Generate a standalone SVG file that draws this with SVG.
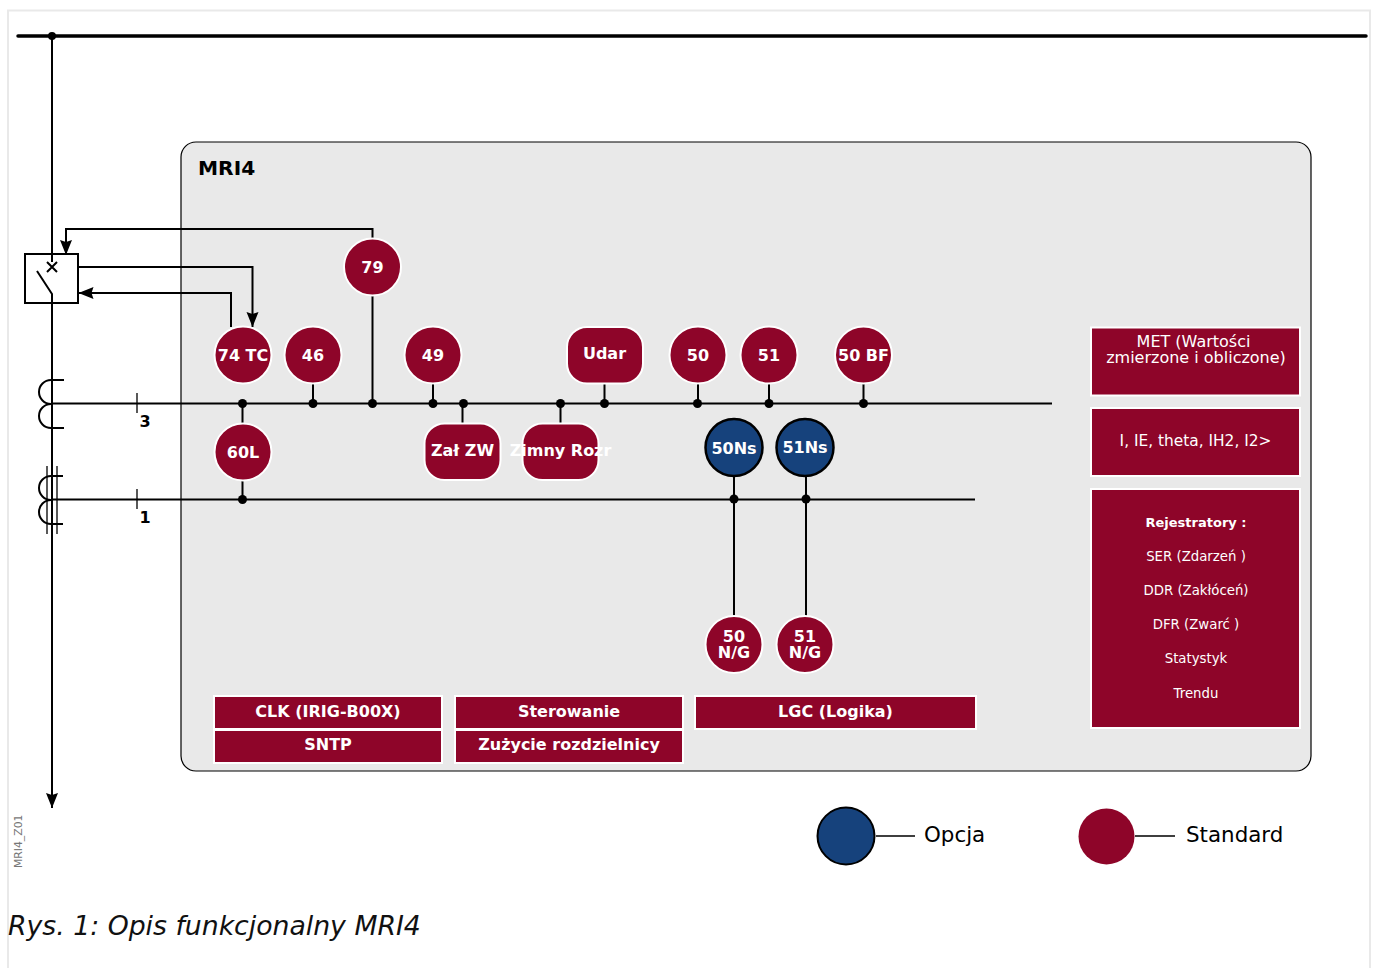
<svg xmlns="http://www.w3.org/2000/svg" width="1375" height="968" viewBox="0 0 1375 968">
<defs>
<marker id="arrow" markerUnits="userSpaceOnUse" markerWidth="16" markerHeight="14" refX="15" refY="6.500" orient="auto"><path d="M0 0.500L15 6.500L0 12.500L2 6.500Z" fill="#000"/></marker>
</defs>
<style>
text{font-family:"DejaVu Sans","Liberation Sans",sans-serif}
.c{text-anchor:middle}
.w{fill:#fff}
.m{font-weight:bold;font-size:16px}
.s{font-size:13.300px}
.red{fill:#8e0529;stroke:#fff;stroke-width:2}
.blue{fill:#16427c;stroke:#000;stroke-width:2.500}
.l{fill:none;stroke:#000;stroke-width:2}
.t{fill:none;stroke:#000;stroke-width:1.300}
</style>
<rect width="1375" height="968" fill="#fff"/>
<path d="M8 968V10.500H1370V968" fill="none" stroke="#e9e9e9" stroke-width="2"/>
<g id="mri4-frame">
<rect x="181" y="142" width="1130" height="629" rx="15" ry="15" fill="#e9e9e9" stroke="#000" stroke-width="1.200"/>
<text x="198" y="175" font-size="20.200" font-weight="bold">MRI4</text>
</g>
<g id="connectors">
<path d="M18 36H1366" fill="none" stroke="#000" stroke-width="3.500" stroke-linecap="round"/>
<circle cx="52" cy="36" r="4"/>
<path class="l" d="M52 36V254"/>
<path class="l" d="M52 303V808" marker-end="url(#arrow)"/>
<path class="l" d="M52 254V262M37 271L52 294V303"/>
<path class="l" d="M47 262L57 272M57 262L47 272"/>
<path class="l" d="M372.500 239V229H66V255" marker-end="url(#arrow)"/>
<path class="l" d="M79 267H252.500V327" marker-end="url(#arrow)"/>
<path class="l" d="M231 327V293H78.500" marker-end="url(#arrow)"/>
<path class="l" d="M372.500 296V403"/>
<path class="l" d="M52 403.500H1052"/>
<path class="l" d="M52 499.500H975"/>
<path class="t" d="M137 393V413M137 489V509"/>
<path class="l" d="M64 380H51A12 12 0 0 0 51 404A12 12 0 0 0 51 428H64"/>
<path class="l" d="M63 476H51A12 12 0 0 0 51 500A12 12 0 0 0 51 524H63"/>
<path class="t" d="M47 466V534M57 466V534"/>
<path class="l" d="M242.500 403V424M242.500 480V499M313 384V403M433 384V403M462.500 403V424M560.500 403V424M604.500 384V403M698 384V403M769 384V403M863.500 384V403M734 476V616M806 476V616"/>
<g>
<circle cx="242.500" cy="403.500" r="4.500"/><circle cx="313" cy="403.500" r="4.500"/><circle cx="372.500" cy="403.500" r="4.500"/><circle cx="433" cy="403.500" r="4.500"/><circle cx="463.500" cy="403.500" r="4.500"/><circle cx="560.500" cy="403.500" r="4.500"/><circle cx="604.500" cy="403.500" r="4.500"/><circle cx="697.500" cy="403.500" r="4.500"/><circle cx="769" cy="403.500" r="4.500"/><circle cx="863.500" cy="403.500" r="4.500"/><circle cx="242.500" cy="499.500" r="4.500"/><circle cx="734" cy="499" r="4.500"/><circle cx="806" cy="499" r="4.500"/>
</g>
<path d="M876 836H915M1135 836H1175" fill="none" stroke="#000" stroke-width="1.500"/>
</g>
<g id="breaker"><rect x="25" y="254" width="53" height="49" fill="none" stroke="#000" stroke-width="2"/></g>
<text class="m" x="145" y="427" text-anchor="middle">3</text>
<text class="m" x="145" y="523" text-anchor="middle">1</text>
<g id="n79"><circle class="red" cx="372.500" cy="267" r="28.500"/><text class="c w m" x="372.500" y="273">79</text></g>
<g id="n74tc"><circle class="red" cx="243" cy="355" r="28.500"/><text class="c w m" x="243" y="361">74 TC</text></g>
<g id="n46"><circle class="red" cx="313" cy="355" r="28.500"/><text class="c w m" x="313" y="361">46</text></g>
<g id="n49"><circle class="red" cx="433" cy="355" r="28.500"/><text class="c w m" x="433" y="361">49</text></g>
<g id="nudar"><rect class="red" x="567" y="327" width="76" height="56.500" rx="20"/><text class="c w m" x="604.500" y="359">Udar</text></g>
<g id="n50"><circle class="red" cx="698" cy="355" r="28.500"/><text class="c w m" x="698" y="361">50</text></g>
<g id="n51"><circle class="red" cx="769" cy="355" r="28.500"/><text class="c w m" x="769" y="361">51</text></g>
<g id="n50bf"><circle class="red" cx="863.500" cy="355" r="28.500"/><text class="c w m" x="863.500" y="361">50 BF</text></g>
<g id="n60l"><circle class="red" cx="243" cy="452" r="28.500"/><text class="c w m" x="243" y="458">60L</text></g>
<g id="nzalzw"><rect class="red" x="424.500" y="423.500" width="76" height="56.500" rx="20"/><text class="c w m" x="462.500" y="456">Zał ZW</text></g>
<g id="nzimny"><rect class="red" x="522.500" y="423.500" width="76" height="56.500" rx="20"/><text class="c w m" x="560.500" y="456">Zimny Rozr</text></g>
<g id="n50ns"><circle class="blue" cx="734" cy="447.500" r="28.500"/><text class="c w m" x="734" y="454">50Ns</text></g>
<g id="n51ns"><circle class="blue" cx="805" cy="447.500" r="28.500"/><text class="c w m" x="805" y="453">51Ns</text></g>
<g id="n50ng"><circle class="red" cx="734" cy="644.500" r="28.500"/><text class="c w m" x="734" y="642">50</text><text class="c w m" x="734" y="658">N/G</text></g>
<g id="n51ng"><circle class="red" cx="805" cy="644.500" r="28.500"/><text class="c w m" x="805" y="642">51</text><text class="c w m" x="805" y="658">N/G</text></g>
<g id="met"><rect class="red" x="1091" y="327.500" width="209" height="68"/><text class="c w" font-size="16" x="1193.500" y="347">MET (Wartości</text><text class="c w" font-size="16" x="1196" y="363">zmierzone i obliczone)</text></g>
<g id="values"><rect class="red" x="1091" y="408" width="209" height="68"/><text class="c w" font-size="15.400" x="1195.500" y="446">I, IE, theta, IH2, I2&gt;</text></g>
<g id="rejestratory"><rect class="red" x="1091" y="489" width="209" height="239"/>
<text class="c w" font-size="13" font-weight="bold" x="1196" y="527">Rejestratory :</text>
<text class="c w s" x="1196" y="561">SER (Zdarzeń )</text>
<text class="c w s" x="1196" y="595">DDR (Zakłóceń)</text>
<text class="c w s" x="1196" y="629">DFR (Zwarć )</text>
<text class="c w s" x="1196" y="663">Statystyk</text>
<text class="c w s" x="1196" y="698">Trendu</text></g>
<g id="clk"><rect class="red" x="214" y="696" width="228" height="33"/><text class="c w m" x="328" y="717">CLK (IRIG-B00X)</text></g>
<g id="sntp"><rect class="red" x="214" y="730" width="228" height="33"/><text class="c w m" x="328" y="750">SNTP</text></g>
<g id="sterowanie"><rect class="red" x="455" y="696" width="228" height="33"/><text class="c w m" x="569" y="717">Sterowanie</text></g>
<g id="zuzycie"><rect class="red" x="455" y="730" width="228" height="33"/><text class="c w m" x="569" y="750">Zużycie rozdzielnicy</text></g>
<g id="lgc"><rect class="red" x="695" y="696" width="281" height="33"/><text class="c w m" x="835.500" y="717">LGC (Logika)</text></g>
<g id="legend-opcja"><circle cx="846" cy="836" r="28.500" fill="#16427c" stroke="#000" stroke-width="2"/><text x="924" y="842" font-size="21.400">Opcja</text></g>
<g id="legend-standard"><circle cx="1106.500" cy="836.500" r="28" fill="#8e0529"/><text x="1186" y="842" font-size="21.400">Standard</text></g>
<text transform="translate(22 868) rotate(-90)" font-size="10.800" fill="#777">MRI4_Z01</text>
<text x="8" y="935" font-size="26.700" font-style="italic" fill="#111">Rys. 1: Opis funkcjonalny MRI4</text>
</svg>
